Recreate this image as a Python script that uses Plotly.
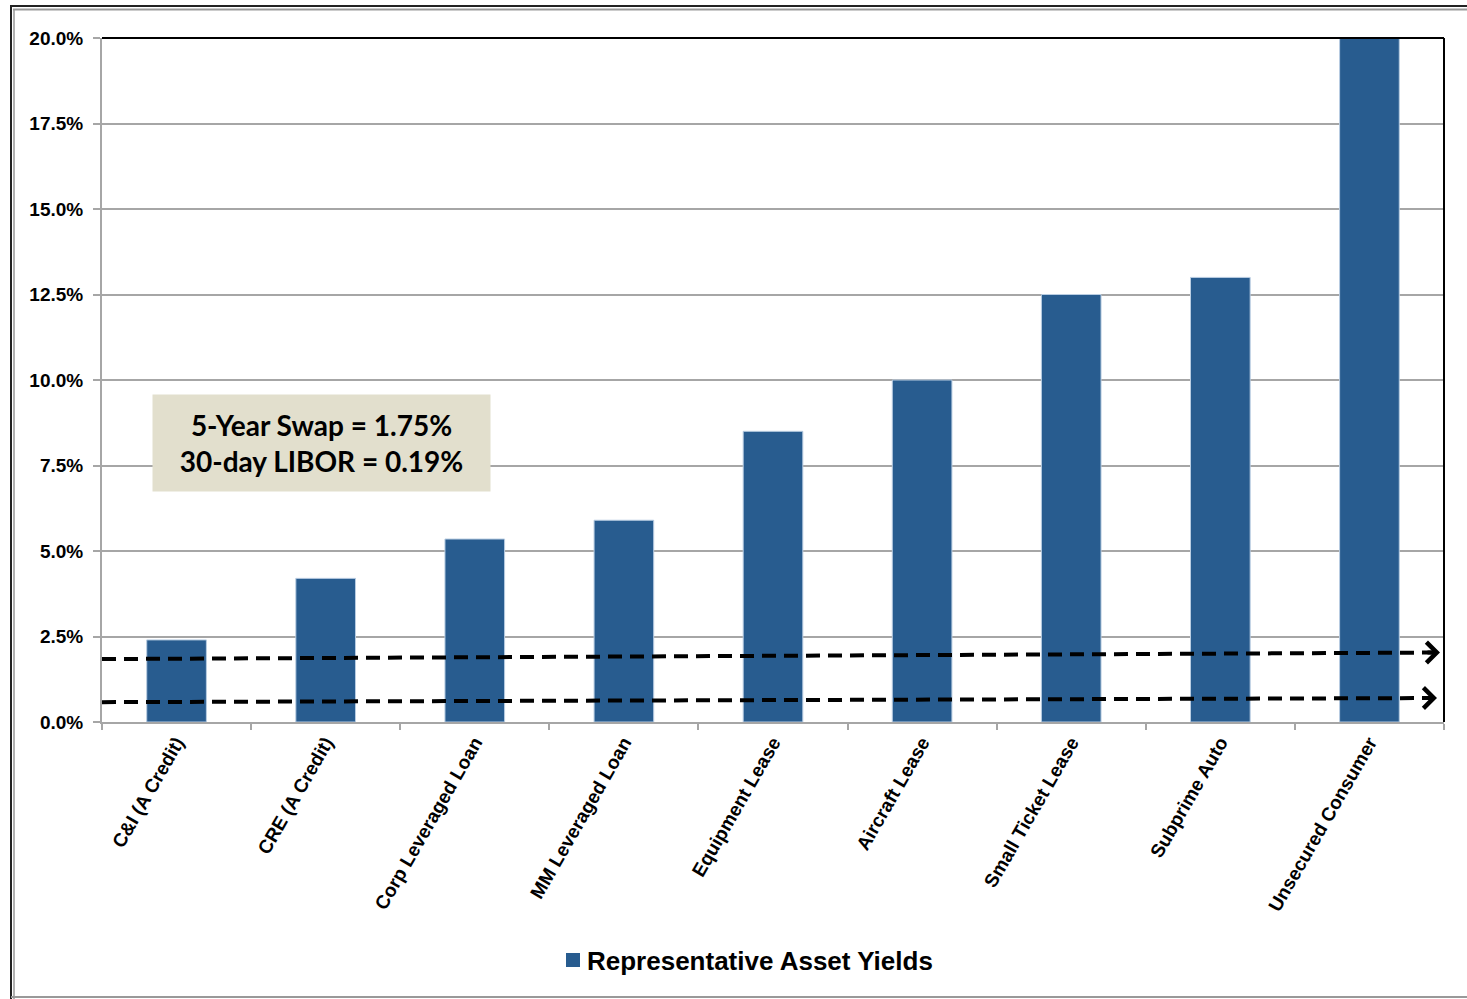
import plotly.graph_objects as go

categories = ["C&I (A Credit)", "CRE (A Credit)", "Corp Leveraged Loan", "MM Leveraged Loan",
              "Equipment Lease", "Aircraft Lease", "Small Ticket Lease", "Subprime Auto",
              "Unsecured Consumer"]
yields = [2.4, 4.2, 5.35, 5.9, 8.5, 10.0, 12.5, 13.0, 20.0]
series_name = "Representative Asset Yields"

y_ticks = [0, 2.5, 5, 7.5, 10, 12.5, 15, 17.5, 20]
y_tick_labels = ["0.0%", "2.5%", "5.0%", "7.5%", "10.0%", "12.5%", "15.0%", "17.5%", "20.0%"]

# dashed rate arrows: (start value, end value) in %
swap_line = [1.84, 2.03]
libor_line = [0.58, 0.70]
box_text = "5-Year Swap = 1.75%<br>30-day LIBOR = 0.19%"

BAR = "#285c8f"
GRID = "#a6a6a6"
FONT = "Liberation Sans, Arial, sans-serif"

fig = go.Figure()
fig.add_trace(go.Bar(
    x=categories, y=yields, name=series_name, width=0.4,
    marker=dict(color=BAR, line=dict(color="#b9cde2", width=1)),
    showlegend=False,
))

W, H = 1467, 999
L, R, T, B = 102, 23, 38, 277

fig.update_layout(
    width=W, height=H,
    margin=dict(l=L, r=R, t=T, b=B, pad=0),
    paper_bgcolor="white", plot_bgcolor="white",
    font=dict(family=FONT, color="black", weight="bold"),
    bargap=0.6,
    showlegend=False,
)
fig.update_xaxes(
    type="category", range=[-0.5, 8.5], showgrid=False,
    showline=True, linecolor=GRID, linewidth=2,
    ticks="outside", tickson="boundaries", ticklen=6, tickcolor=GRID, tickwidth=2,
    tickangle=-60,
    tickfont=dict(family=FONT, size=19, color="black", weight="bold"),
)
fig.update_yaxes(
    range=[0, 20], tickvals=y_ticks, ticktext=y_tick_labels,
    showgrid=True, gridcolor=GRID, gridwidth=2,
    showline=True, linecolor=GRID, linewidth=2,
    ticks="outside", ticklen=7, tickcolor=GRID, tickwidth=2,
    ticklabelstandoff=6,
    tickfont=dict(family=FONT, size=19, color="black", weight="bold"),
    zeroline=False,
)

def px_x(p):
    return (p - L) / (W - L - R)

def px_y(p):
    return (H - B - p) / (H - T - B)

shapes = []
# plot-area border top/right (black)
shapes.append(dict(type="line", xref="paper", yref="paper", x0=0, x1=1, y0=1, y1=1,
                   line=dict(color="black", width=2)))
shapes.append(dict(type="line", xref="paper", yref="paper", x0=1, x1=1, y0=0, y1=1,
                   line=dict(color="black", width=2)))
# outer frame
shapes.append(dict(type="line", xref="paper", yref="paper", x0=px_x(10), x1=px_x(1470),
                   y0=px_y(6), y1=px_y(6), line=dict(color="#222222", width=2)))
shapes.append(dict(type="line", xref="paper", yref="paper", x0=px_x(13), x1=px_x(1470),
                   y0=px_y(9.5), y1=px_y(9.5), line=dict(color="#999999", width=2)))
shapes.append(dict(type="line", xref="paper", yref="paper", x0=px_x(11), x1=px_x(11),
                   y0=px_y(6), y1=px_y(1000), line=dict(color="#222222", width=2)))
shapes.append(dict(type="line", xref="paper", yref="paper", x0=px_x(14), x1=px_x(14),
                   y0=px_y(9.5), y1=px_y(1000), line=dict(color="#999999", width=1.5)))
shapes.append(dict(type="line", xref="paper", yref="paper", x0=px_x(11), x1=px_x(1470),
                   y0=px_y(997), y1=px_y(997), line=dict(color="#999999", width=2)))

# dashed rate lines
end_x = [px_x(1433), px_x(1431)]
for (v0, v1), ex in zip([swap_line, libor_line], end_x):
    shapes.append(dict(type="line", xref="paper", yref="y", x0=0, x1=ex, y0=v0, y1=v1,
                       line=dict(color="black", width=4, dash="14px,8px")))

# legend marker (manual legend)
shapes.append(dict(type="rect", xref="paper", yref="paper",
                   x0=px_x(566), x1=px_x(580), y0=px_y(953), y1=px_y(967),
                   fillcolor=BAR, line=dict(width=0)))
fig.update_layout(shapes=shapes)

annotations = []
tip_x = [px_x(1440), px_x(1437)]
for (v0, v1), tx in zip([swap_line, libor_line], tip_x):
    annotations.append(dict(x=tx, y=v1, xref="paper", yref="y", text="", showarrow=True,
                            arrowhead=4, arrowsize=1.0, arrowwidth=4, arrowcolor="black",
                            ax=-14, ay=0, standoff=0))
annotations.append(dict(
    x=px_x(321.5), y=px_y(443), xref="paper", yref="paper", text=box_text, showarrow=False,
    xanchor="center", yanchor="middle", width=337, height=96, bgcolor="#e2dfcd",
    borderpad=0, align="center",
    font=dict(family="Lato, Open Sans, sans-serif", size=28, color="black", weight="bold"),
))
annotations.append(dict(
    x=px_x(585), y=px_y(961), xref="paper", yref="paper", text=series_name, showarrow=False,
    xanchor="left", yanchor="middle",
    font=dict(family=FONT, size=26, color="black", weight="bold"),
))
fig.update_layout(annotations=annotations)

fig.write_html("out.html")
